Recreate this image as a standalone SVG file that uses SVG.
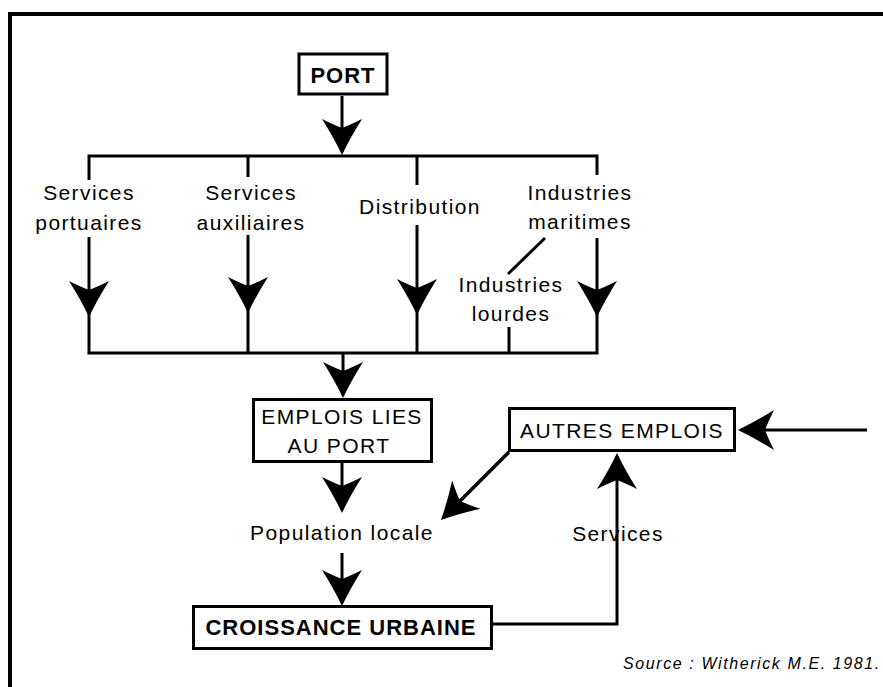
<svg xmlns="http://www.w3.org/2000/svg" width="883" height="687" viewBox="0 0 883 687">
<style>
  .box { fill: #fff; stroke: #000; stroke-width: 3; }
  .ln { fill: none; stroke: #000; stroke-width: 3; }
  .t { font-family: "Liberation Sans", Arial, sans-serif; font-size: 21px; letter-spacing: 1.4px; fill: #000; text-anchor: middle; }
  .b { font-family: "Liberation Sans", Arial, sans-serif; font-size: 22px; font-weight: bold; letter-spacing: 1px; fill: #000; text-anchor: middle; }
  .src { font-family: "Liberation Sans", Arial, sans-serif; font-size: 16px; font-style: italic; letter-spacing: 1.6px; fill: #000; }
</style>
<defs>
  <marker id="ah" markerUnits="userSpaceOnUse" markerWidth="50" markerHeight="50" viewBox="-40 -25 50 50" refX="0" refY="0" orient="auto" overflow="visible">
    <path d="M3,0 Q-14,-8 -33,-20 Q-27,-8 -24,0 Q-27,8 -33,20 Q-14,8 3,0 Z" fill="#000"/>
  </marker>
</defs>
<rect x="0" y="0" width="883" height="687" fill="#fff"/>
<rect x="10" y="14" width="900" height="700" fill="none" stroke="#000" stroke-width="4"/>

<g id="connectors">
  <path class="ln" d="M342,96 V152" marker-end="url(#ah)"/>
  <path class="ln" d="M89,180 V156 H597 V175"/>
  <path class="ln" d="M248,156 V177"/>
  <path class="ln" d="M417,156 V185"/>
  <path class="ln" d="M89,237 V314" marker-end="url(#ah)"/>
  <path class="ln" d="M248,235 V310" marker-end="url(#ah)"/>
  <path class="ln" d="M417,225 V312" marker-end="url(#ah)"/>
  <path class="ln" d="M597,238 V314" marker-end="url(#ah)"/>
  <path class="ln" d="M89,305 V353 H597 V305"/>
  <path class="ln" d="M248,305 V353"/>
  <path class="ln" d="M417,305 V353"/>
  <path class="ln" d="M509,327 V353"/>
  <path class="ln" d="M508,274 L545,238"/>
  <path class="ln" d="M343,353 V395" marker-end="url(#ah)"/>
  <path class="ln" d="M342,463 V510" marker-end="url(#ah)"/>
  <path class="ln" d="M342,553 V603" marker-end="url(#ah)"/>
  <path class="ln" d="M493,624 H617 V456" marker-end="url(#ah)"/>
  <path class="ln" d="M867,430 H741" marker-end="url(#ah)"/>
  <path class="ln" style="stroke-width:3.5" d="M509,452 L443,518" marker-end="url(#ah)"/>
</g>

<g id="port">
  <rect class="box" x="299" y="54" width="88" height="40"/>
  <text class="b" x="343" y="83">PORT</text>
</g>
<g id="services-portuaires">
  <text class="t" x="89" y="200">Services</text>
  <text class="t" x="89" y="230">portuaires</text>
</g>
<g id="services-auxiliaires">
  <text class="t" x="251" y="200">Services</text>
  <text class="t" x="251" y="230">auxiliaires</text>
</g>
<g id="distribution">
  <text class="t" x="420" y="214">Distribution</text>
</g>
<g id="industries-maritimes">
  <text class="t" x="580" y="200">Industries</text>
  <text class="t" x="580" y="229">maritimes</text>
</g>
<g id="industries-lourdes">
  <text class="t" x="511" y="292">Industries</text>
  <text class="t" x="511" y="321">lourdes</text>
</g>
<g id="emplois-lies">
  <rect class="box" x="253.5" y="399.5" width="178" height="62"/>
  <text class="t" x="342" y="424">EMPLOIS LIES</text>
  <text class="t" x="339" y="453">AU PORT</text>
</g>
<g id="autres-emplois">
  <rect class="box" x="509.5" y="408.5" width="225" height="42"/>
  <text class="t" x="622" y="438">AUTRES EMPLOIS</text>
</g>
<g id="population-locale">
  <text class="t" x="342" y="540">Population locale</text>
</g>
<g id="services">
  <text class="t" x="618" y="541">Services</text>
</g>
<g id="croissance-urbaine">
  <rect class="box" x="193.5" y="606.5" width="298" height="42"/>
  <text class="b" x="341" y="635">CROISSANCE URBAINE</text>
</g>
<g id="source">
  <text class="src" x="623" y="669">Source : Witherick M.E. 1981.</text>
</g>
</svg>
